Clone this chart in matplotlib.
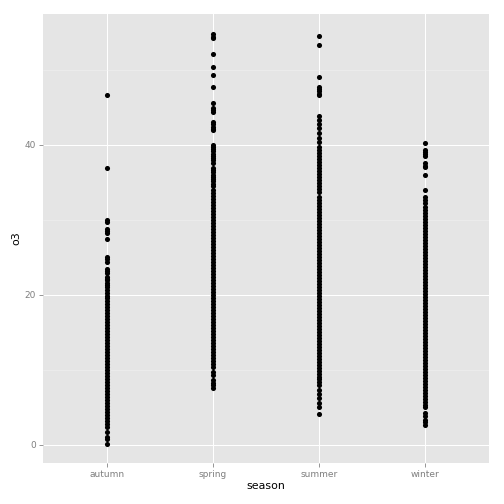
import matplotlib
matplotlib.use("Agg")
from matplotlib import pyplot as plt

seasons = ["autumn", "spring", "summer", "winter"]

# o3 readings per season
autumn = [46.6, 36.9, 29.9, 29.7, 28.7, 28.5, 28.2, 27.4, 25.0, 24.7, 24.4,
          23.4, 23.1, 22.9, 22.4, 22.1, 21.9, 21.6, 21.3, 21.0, 20.6, 20.2,
          19.8, 19.5, 19.1, 18.7, 18.3, 17.9, 17.5, 17.1, 16.7, 16.3, 15.9,
          15.5, 15.1, 14.7, 14.3, 13.9, 13.5, 13.1, 12.7, 12.3, 11.9, 11.5,
          11.1, 10.7, 10.3, 9.9, 9.5, 9.1, 8.7, 8.3, 7.9, 7.5, 7.1, 6.7, 6.3,
          5.9, 5.5, 5.1, 4.7, 4.3, 3.9, 3.5, 3.1, 2.7, 2.4, 1.7, 1.0, 0.8, 0.1]
spring = [54.7, 54.4, 54.2, 52.1, 50.4, 49.3, 47.7, 45.6, 44.9, 44.6, 44.3,
          43.0, 42.7, 42.4, 42.1, 41.9, 40.0, 39.7, 39.4, 39.1, 38.8, 38.5,
          38.2, 37.9, 37.5, 36.9, 36.6, 36.3, 36.0, 35.7, 35.4, 35.1, 34.8,
          34.5, 33.9, 33.5, 33.1, 32.7, 32.3, 31.9, 31.5, 31.1, 30.7, 30.3,
          29.9, 29.5, 29.1, 28.7, 28.3, 27.9, 27.5, 27.1, 26.7, 26.3, 25.9,
          25.5, 25.1, 24.7, 24.3, 23.9, 23.5, 23.1, 22.7, 22.3, 21.9, 21.5,
          21.1, 20.7, 20.3, 19.9, 19.5, 19.1, 18.7, 18.3, 17.9, 17.5, 17.1,
          16.7, 16.3, 15.9, 15.5, 15.1, 14.7, 14.3, 13.9, 13.5, 13.1, 12.7,
          12.3, 11.9, 11.5, 11.1, 10.7, 10.3, 9.7, 9.3, 8.6, 8.2, 7.9, 7.5]
summer = [54.5, 53.3, 49.0, 47.7, 47.4, 47.1, 46.8, 46.6, 43.8, 43.3, 42.8,
          42.2, 41.6, 40.9, 40.4, 39.7, 39.3, 38.9, 38.5, 38.1, 37.7, 37.3,
          36.9, 36.5, 36.1, 35.7, 35.3, 34.9, 34.5, 34.1, 33.7, 33.0, 32.6,
          32.2, 31.8, 31.4, 31.0, 30.6, 30.2, 29.8, 29.4, 29.0, 28.6, 28.2,
          27.8, 27.4, 27.0, 26.6, 26.2, 25.8, 25.4, 25.0, 24.6, 24.2, 23.8,
          23.4, 23.0, 22.6, 22.2, 21.8, 21.4, 21.0, 20.6, 20.2, 19.8, 19.4,
          19.0, 18.6, 18.2, 17.8, 17.4, 17.0, 16.6, 16.2, 15.8, 15.4, 15.0,
          14.6, 14.2, 13.8, 13.4, 13.0, 12.6, 12.2, 11.8, 11.4, 11.0, 10.6,
          10.2, 9.8, 9.4, 9.0, 8.7, 8.4, 7.9, 7.3, 6.7, 6.2, 5.6, 5.0, 4.1]
winter = [40.2, 39.3, 39.0, 38.7, 38.5, 37.5, 37.2, 37.0, 35.9, 33.9, 33.0,
          32.6, 32.2, 31.7, 31.3, 30.9, 30.5, 30.1, 29.7, 29.3, 28.9, 28.5,
          28.1, 27.7, 27.3, 26.9, 26.5, 26.1, 25.7, 25.3, 24.9, 24.5, 24.1,
          23.7, 23.3, 22.9, 22.5, 22.1, 21.7, 21.3, 20.9, 20.5, 20.1, 19.7,
          19.3, 18.9, 18.5, 18.1, 17.7, 17.3, 16.9, 16.5, 16.1, 15.7, 15.3,
          14.9, 14.5, 14.1, 13.7, 13.3, 12.9, 12.5, 12.1, 11.7, 11.3, 10.9,
          10.5, 10.1, 9.7, 9.3, 8.9, 8.5, 8.1, 7.7, 7.3, 6.9, 6.5, 6.1, 5.7,
          5.3, 5.0, 4.2, 3.8, 3.3, 3.0, 2.6]

fig = plt.figure(figsize=(7, 7), dpi=72)
ax = fig.add_axes([0.0853, 0.0813, 0.8849, 0.8909])
ax.set_facecolor("#E5E5E5")

for i, vals in enumerate([autumn, spring, summer, winter]):
    ax.scatter([i + 1] * len(vals), vals, s=26, color="black",
               linewidths=0, zorder=3)

ax.set_xlim(0.4, 4.6)
ax.set_ylim(-2.47, 57.4)
ax.set_xticks([1, 2, 3, 4])
ax.set_xticklabels(seasons)
ax.set_yticks([0, 20, 40])
ax.set_yticks([10, 30, 50], minor=True)

ax.grid(which="major", color="white", linewidth=1.0, zorder=1)
ax.grid(which="minor", axis="y", color="#F2F2F2", linewidth=0.5, zorder=1)
ax.set_axisbelow(True)
for sp in ax.spines.values():
    sp.set_visible(False)

ax.tick_params(which="major", length=4, width=0.8, color="#7F7F7F",
               labelcolor="#7F7F7F", labelsize=9, pad=3)
ax.tick_params(which="minor", length=0)

ax.set_xlabel("season", fontsize=11, color="black", labelpad=2)
ax.set_ylabel("o3", fontsize=11, color="black", labelpad=3)

plt.savefig("out.png", dpi=72, facecolor="white")
